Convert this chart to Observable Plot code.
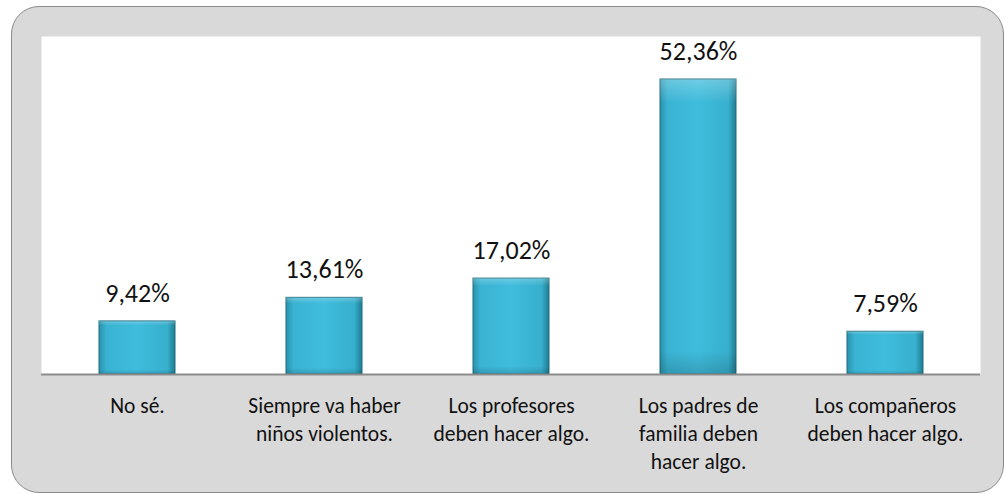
<!DOCTYPE html>
<html>
<head>
<meta charset="utf-8">
<script src="https://cdn.jsdelivr.net/npm/d3@7"></script>
<script src="https://cdn.jsdelivr.net/npm/@observablehq/plot@0.6"></script>
<style>
  html, body { margin: 0; padding: 0; background: #ffffff; }
  #wrap { position: relative; width: 1005px; height: 494px; }
  #panel { position: absolute; left: 11px; top: 6px; width: 993px; height: 487px;
           background: #d9d9d9; border: 1.5px solid #8a8a8a; border-radius: 28px; box-sizing: border-box; }
  #chart { position: absolute; left: 0; top: 0; }
</style>
</head>
<body>
<div id="wrap"><div id="panel"></div><div id="chart"></div></div>
<script>
const categories = [
  "No sé.",
  "Siempre va haber\nniños violentos.",
  "Los profesores\ndeben hacer algo.",
  "Los padres de\nfamilia deben\nhacer algo.",
  "Los compañeros\ndeben hacer algo."
];
const values = [9.42, 13.61, 17.02, 52.36, 7.59];
const valueLabels = ["9,42%", "13,61%", "17,02%", "52,36%", "7,59%"];

const data = categories.map((c, i) => ({cat: c, v: values[i], label: valueLabels[i]}));
const font = "Carlito, Calibri, Lato, sans-serif";

const chart = Plot.plot({
  width: 1005,
  height: 494,
  marginLeft: 41,
  marginRight: 25,
  marginTop: 36,
  marginBottom: 120,
  style: {background: "transparent", fontFamily: font, color: "#111"},
  x: {domain: categories, paddingInner: 0.595, paddingOuter: 0.2975, label: null},
  y: {domain: [0, 60], axis: null},
  marks: [
    Plot.frame({fill: "white", stroke: null}),
    Plot.barY(data, {x: "cat", y: "v", fill: "url(#barGrad)", stroke: "#1e6c7e", strokeWidth: 1}),
    Plot.barY(data, {x: "cat", y: "v", fill: "url(#barShade)", stroke: null}),
    Plot.ruleY([0], {stroke: "#8c8c8c", strokeWidth: 2}),
    Plot.text(data, {x: "cat", y: "v", text: "label", dy: -28, lineAnchor: "middle", fontSize: 26, fill: "#111"}),
    Plot.axisX({tickSize: 0, tickPadding: 19, fontSize: 21.5, lineHeight: 1.3, lineAnchor: "top", fill: "#111", label: null})
  ]
});

const svg = d3.select(chart);
const defs = svg.insert("defs", ":first-child");
const g = defs.append("linearGradient").attr("id", "barGrad").attr("x1", 0).attr("x2", 1).attr("y1", 0).attr("y2", 0);
g.append("stop").attr("offset", "0%").attr("stop-color", "#2a93ad");
g.append("stop").attr("offset", "10%").attr("stop-color", "#3ab3d2");
g.append("stop").attr("offset", "50%").attr("stop-color", "#3fbcdc");
g.append("stop").attr("offset", "90%").attr("stop-color", "#37afcd");
g.append("stop").attr("offset", "100%").attr("stop-color", "#1f7d94");
const s = defs.append("linearGradient").attr("id", "barShade").attr("x1", 0).attr("x2", 0).attr("y1", 0).attr("y2", 1);
s.append("stop").attr("offset", "0%").attr("stop-color", "#ffffff").attr("stop-opacity", 0.25);
s.append("stop").attr("offset", "8%").attr("stop-color", "#ffffff").attr("stop-opacity", 0.0);
s.append("stop").attr("offset", "92%").attr("stop-color", "#000000").attr("stop-opacity", 0.0);
s.append("stop").attr("offset", "100%").attr("stop-color", "#000000").attr("stop-opacity", 0.15);

document.getElementById("chart").appendChild(chart);
</script>
</body>
</html>
